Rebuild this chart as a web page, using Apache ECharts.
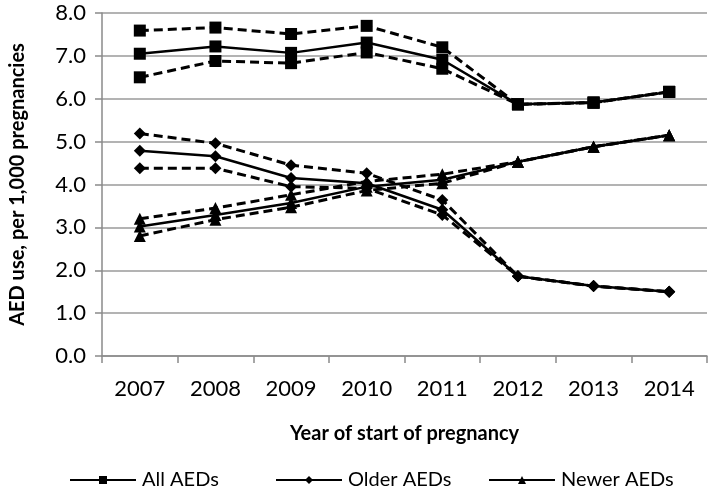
<!DOCTYPE html>
<html><head><meta charset="utf-8">
<script src="https://cdn.jsdelivr.net/npm/echarts@6/dist/echarts.min.js"></script>
<style>html,body{margin:0;padding:0;background:#fff}#c{width:709px;height:488px}</style>
</head><body><div id="c"></div>
<script>
var years = ['2007','2008','2009','2010','2011','2012','2013','2014'];
var yTicks = [0,1,2,3,4,5,6,7,8];
var allMean  = [7.05, 7.22, 7.07, 7.31, 6.91, 5.87, 5.91, 6.16];
var allUpper = [7.59, 7.66, 7.51, 7.70, 7.20, 5.87, 5.91, 6.16];
var allLower = [6.50, 6.88, 6.83, 7.08, 6.70, 5.87, 5.91, 6.16];
var oldMean  = [4.79, 4.66, 4.15, 4.03, 3.41, 1.86, 1.63, 1.50];
var oldUpper = [5.19, 4.96, 4.45, 4.26, 3.64, 1.86, 1.63, 1.50];
var oldLower = [4.38, 4.38, 3.95, 3.91, 3.29, 1.86, 1.63, 1.50];
var newMean  = [3.02, 3.29, 3.57, 3.95, 4.11, 4.53, 4.88, 5.15];
var newUpper = [3.20, 3.45, 3.76, 4.07, 4.24, 4.53, 4.88, 5.15];
var newLower = [2.80, 3.18, 3.47, 3.86, 4.03, 4.53, 4.88, 5.15];

var FONT = 'Lato';
function mk(name, data, symbol, size, dashed) {
  return {
    name: name, type: 'line', data: data, symbol: symbol, symbolSize: size,
    showAllSymbol: true, animation: false,
    lineStyle: { color: '#000', width: dashed ? 3 : 2.5, type: dashed ? [9, 5] : 'solid' },
    itemStyle: { color: '#000' },
    z: dashed ? 2 : 3
  };
}
var chart = echarts.init(document.getElementById('c'), null, {renderer: 'canvas'});
var legendBase = {
  top: 465, itemWidth: 66, itemHeight: 10, itemGap: 0,
  textStyle: { fontFamily: FONT, fontSize: 20, color: '#000', padding: [0,0,0,1] },
  selectedMode: false
};
chart.setOption({
  backgroundColor: '#fff',
  grid: { left: 89, right: 2, top: 13, bottom: 132 },
  legend: [
    Object.assign({}, legendBase, { left: 64, data: ['All AEDs'] }),
    Object.assign({}, legendBase, { left: 270, data: ['Older AEDs'] }),
    Object.assign({}, legendBase, { left: 483, data: ['Newer AEDs'] })
  ],
  xAxis: {
    type: 'category', data: years, boundaryGap: true,
    name: 'Year of start of pregnancy', nameLocation: 'middle', nameGap: 68,
    nameTextStyle: { fontFamily: FONT, fontSize: 20, fontWeight: 'bold', color: '#000' },
    axisLine: { lineStyle: { color: '#8a8a8a', width: 1.5 } },
    axisTick: { show: true, length: 7, lineStyle: { color: '#8a8a8a', width: 1.5 } },
    axisLabel: { fontFamily: FONT, fontSize: 22, color: '#000', margin: 22 },
    splitLine: { show: false }
  },
  yAxis: {
    type: 'value', min: yTicks[0], max: yTicks[yTicks.length-1], interval: 1,
    name: 'AED use, per 1,000 pregnancies', nameLocation: 'middle', nameGap: 74,
    nameTextStyle: { fontFamily: FONT, fontSize: 20, fontWeight: 'bold', color: '#000' },
    axisLine: { show: true, lineStyle: { color: '#8a8a8a', width: 1.5 } },
    axisTick: { show: true, length: 7, lineStyle: { color: '#8a8a8a', width: 1.5 } },
    axisLabel: { fontFamily: FONT, fontSize: 22, color: '#000', margin: 16,
      formatter: function (v) { return v.toFixed(1); } },
    splitLine: { lineStyle: { color: '#9a9a9a', width: 1.5 } }
  },
  series: [
    mk('All AEDs upper', allUpper, 'rect', 12, true),
    mk('All AEDs lower', allLower, 'rect', 12, true),
    mk('Older AEDs upper', oldUpper, 'diamond', 12, true),
    mk('Older AEDs lower', oldLower, 'diamond', 12, true),
    mk('Newer AEDs upper', newUpper, 'triangle', 12, true),
    mk('Newer AEDs lower', newLower, 'triangle', 12, true),
    mk('All AEDs', allMean, 'rect', 12, false),
    mk('Older AEDs', oldMean, 'diamond', 12, false),
    mk('Newer AEDs', newMean, 'triangle', 12, false)
  ]
});
</script></body></html>
